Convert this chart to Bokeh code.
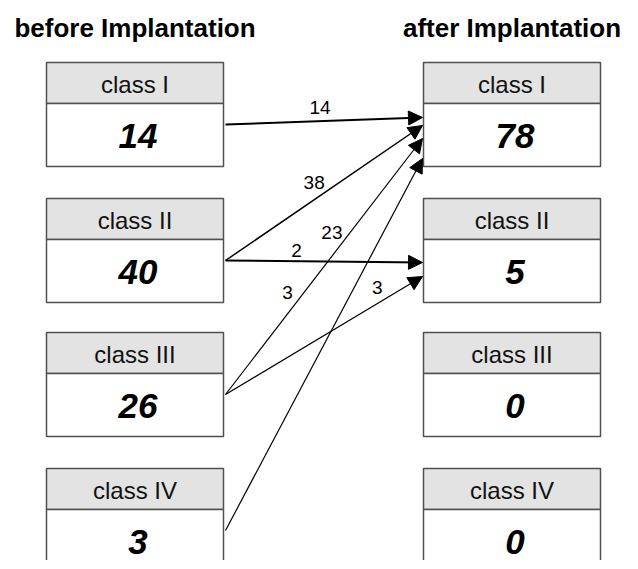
from bokeh.plotting import figure
from bokeh.models import Range1d, ColumnDataSource, Arrow, NormalHead
from bokeh.core.properties import value
from bokeh.embed import file_html
from bokeh.resources import INLINE

# ---- data ----
titles = ["before Implantation", "after Implantation"]
classes = ["class I", "class II", "class III", "class IV"]
before_counts = [14, 40, 26, 3]
after_counts = [78, 5, 0, 0]
flow_from = [0, 1, 1, 2, 2, 3]
flow_to = [0, 0, 1, 0, 1, 0]
flow_counts = [14, 38, 2, 23, 3, 3]

# ---- layout (screen-like coordinates, y downward) ----
col_left = [47, 424]
box_w = 177
box_tops = [63, 199, 333, 469]
head_h = 41
body_h = 63
start_off = 21                              # arrow start below body top
end_off = [14, 22, 23, 35, 37, 55]          # arrow end below target body top
lbl_t = [0.48, 0.45, 0.36, 0.54, 0.77, 0.64]
lbl_dx = [0, 0, 0, 0, 0, -64]
lbl_dy = [-14, -17, -11, -24, -16, 0]
lw = [2.0, 1.5, 2.0, 1.2, 1.2, 1.2]

OFF = 1
W, H = 622, 560
p = figure(width=W, height=H, x_range=Range1d(OFF, OFF + W), y_range=Range1d(OFF + H, OFF),
           output_backend="svg", toolbar_location=None, min_border=0)
p.axis.visible = False
p.grid.visible = False
p.outline_line_color = None
p.background_fill_color = "white"

FONT = "Liberation Sans"
edge = "#505050"

# titles
for i, t in enumerate(titles):
    p.text(x=[col_left[i] + box_w / 2], y=[28], text=[t], text_font=value(FONT),
           text_font_style="bold", text_font_size="26px", text_align="center",
           text_baseline="alphabetic", text_color="black")

# boxes
for c, counts in enumerate([before_counts, after_counts]):
    L = [col_left[c]] * len(classes)
    R = [col_left[c] + box_w] * len(classes)
    ht = box_tops
    hb = [t + head_h for t in box_tops]
    bb = [t + head_h + body_h for t in box_tops]
    p.quad(left=L, right=R, top=ht, bottom=hb, fill_color="#e3e3e3",
           line_color=edge, line_width=1.5)
    p.quad(left=L, right=R, top=hb, bottom=bb, fill_color="white",
           line_color=edge, line_width=1.5)
    xc = [col_left[c] + box_w / 2] * len(classes)
    p.text(x=xc, y=[t + head_h / 2 + 1 for t in box_tops], text=classes,
           text_font=value(FONT), text_font_size="24px", text_align="center",
           text_baseline="middle", text_color="#111111")
    p.text(x=[x + 3 for x in xc], y=[t + head_h + body_h / 2 + 1 for t in box_tops],
           text=[str(v) for v in counts], text_font=value(FONT),
           text_font_style="bold italic", text_font_size="35px",
           text_align="center", text_baseline="middle", text_color="black")

# flows
xs, ys, xe, ye, lx, ly = [], [], [], [], [], []
for k in range(len(flow_counts)):
    x0 = col_left[0] + box_w + 2
    y0 = box_tops[flow_from[k]] + head_h + start_off
    x1 = col_left[1] - 1
    y1 = box_tops[flow_to[k]] + head_h + end_off[k]
    xs.append(x0); ys.append(y0); xe.append(x1); ye.append(y1)
    lx.append(x0 + (x1 - x0) * lbl_t[k] + lbl_dx[k])
    ly.append(y0 + (y1 - y0) * lbl_t[k] + lbl_dy[k])

src = ColumnDataSource(dict(xs=xs, ys=ys, xe=xe, ye=ye, lw=lw))
p.add_layout(Arrow(end=NormalHead(size=14, fill_color="black", line_color="black", line_width=1),
                   x_start="xs", y_start="ys", x_end="xe", y_end="ye",
                   line_width="lw", line_color="black", source=src))
p.text(x=lx, y=ly, text=[str(v) for v in flow_counts], text_font=value(FONT),
       text_font_size="19px", text_align="center", text_baseline="middle",
       text_color="black")

open("out.html", "w").write(file_html(p, INLINE))
